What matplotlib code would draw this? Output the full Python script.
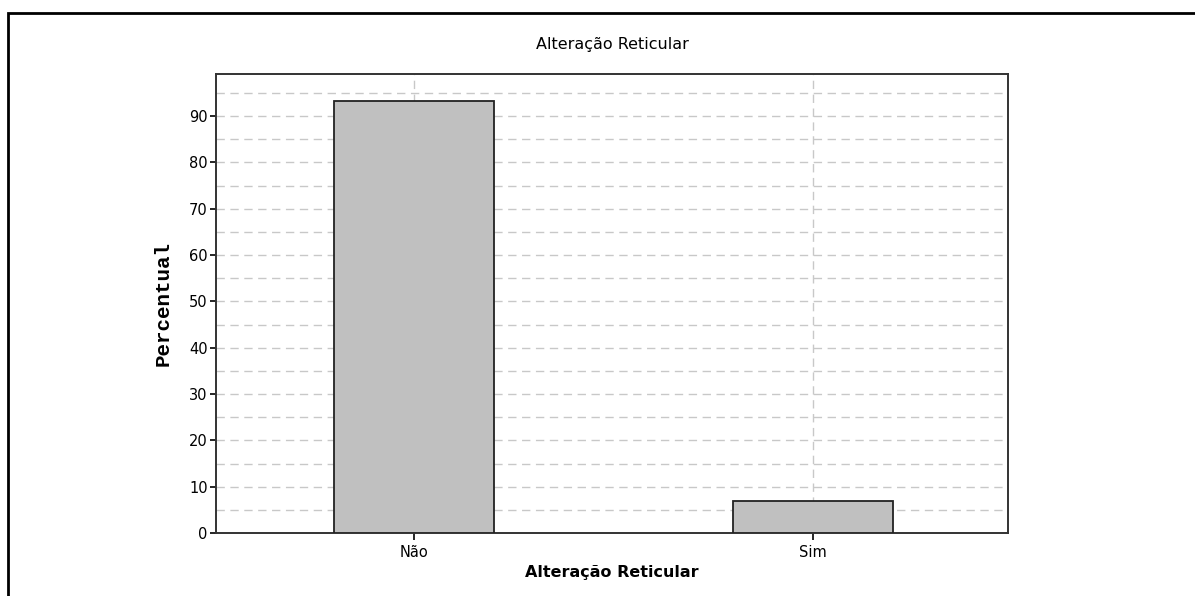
import matplotlib
matplotlib.use("Agg")
import matplotlib.pyplot as plt
from matplotlib.patches import Rectangle
from matplotlib.ticker import MultipleLocator

# dados
categorias = ["Não", "Sim"]
percentual = [93.2, 6.9]

fig = plt.figure(figsize=(11.95, 5.96), dpi=100)

# moldura externa (cortada à direita e embaixo)
fig.patches.append(Rectangle((8 / 1195, -0.1), 1.2, (596 - 13) / 596 + 0.1,
                             transform=fig.transFigure, fill=False,
                             edgecolor="black", linewidth=2))

ax = fig.add_axes([216 / 1195, (596 - 533) / 596, (1008 - 216) / 1195, (533 - 74) / 596])

x = range(len(categorias))
ax.bar(x, percentual, width=0.4, color="#c0c0c0", edgecolor="#222222",
       linewidth=1.3, zorder=3)

ax.set_xlim(-0.496, 1.489)
ax.set_ylim(0, 99.1)
ax.set_xticks(list(x))
ax.set_xticklabels(categorias, fontsize=10.5)
ax.yaxis.set_major_locator(MultipleLocator(10))
ax.yaxis.set_minor_locator(MultipleLocator(5))
ax.tick_params(axis="y", labelsize=10.5, length=4, width=1.2, pad=2)
ax.tick_params(axis="y", which="minor", length=0)
ax.tick_params(axis="x", length=5, width=1.2)

ax.grid(True, which="both", axis="y", color="#c8c8c8", linestyle=(0, (6, 4)),
        linewidth=1, zorder=0)
ax.grid(True, which="major", axis="x", color="#c8c8c8", linestyle=(0, (6, 4)),
        linewidth=1, zorder=0)

for s in ax.spines.values():
    s.set_linewidth(1.4)
    s.set_color("#333333")

ax.set_title("Alteração Reticular", fontsize=11.5, pad=18)
ax.set_xlabel("Alteração Reticular", fontsize=11.5, fontweight="bold", labelpad=4)
ax.set_ylabel("Percentual", fontsize=15, fontweight="bold",
              family="Liberation Mono", labelpad=12)

fig.savefig("out.png", dpi=100)
